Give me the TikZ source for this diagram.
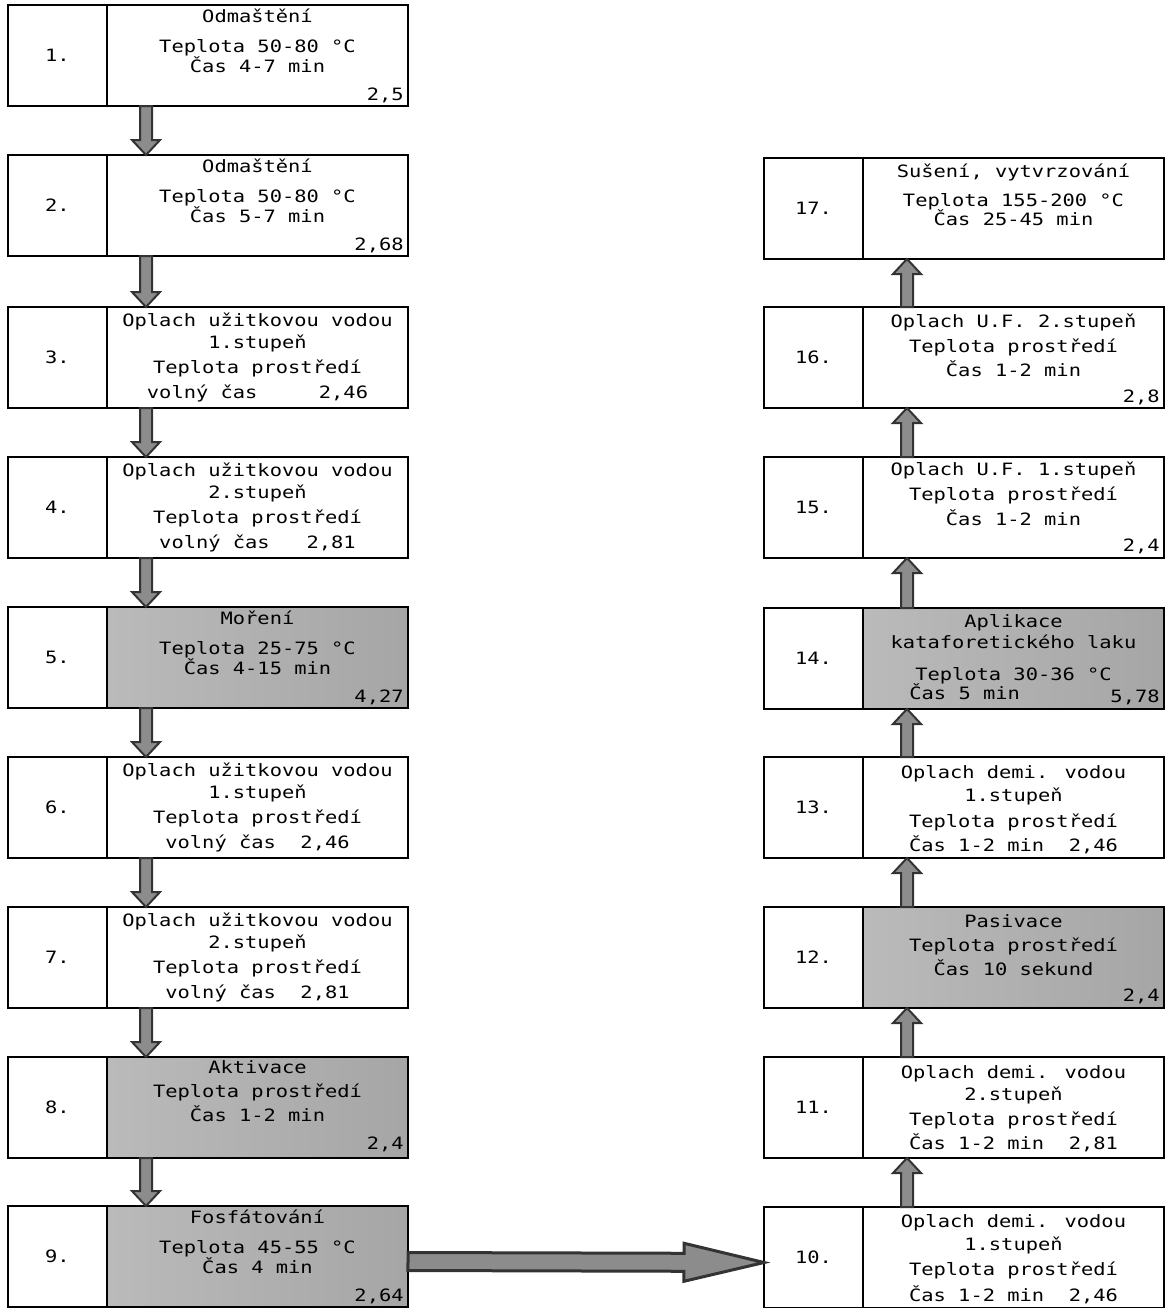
\documentclass[tikz,border=0pt]{standalone}
\usepackage{fontspec}
\setmainfont[FakeStretch=1.2]{DejaVu Sans Mono}
\usetikzlibrary{calc}

% block arrow: [style]{from}{to}{shaft half width}{head half width}{head length}
\newcommand{\procarrow}[6][]{%
  \draw[#1] let \p1=(#2), \p2=(#3), \n1={atan2(\y2-\y1,\x2-\x1)}, \n2={veclen(\x2-\x1,\y2-\y1)} in
    [shift={(\p1)}, rotate=\n1]
    (0pt,-#4) -- ({\n2*1pt-#6},-#4) -- ({\n2*1pt-#6},-#5) -- ({\n2*1pt},0pt)
    -- ({\n2*1pt-#6},#5) -- ({\n2*1pt-#6},#4) -- (0pt,#4) -- cycle;}

\begin{document}
\begin{tikzpicture}[x=0.5pt, y=-0.5pt, font=\fontsize{8.5pt}{10pt}\selectfont, line join=miter,
  numcell/.style={draw, line width=1.3pt, minimum width=49.5pt, minimum height=50.5pt, inner sep=0pt, outer sep=0pt},
  textcell/.style={draw, line width=1.3pt, minimum width=150.5pt, minimum height=50.5pt, inner sep=0pt, outer sep=0pt, anchor=west},
  bath/.style={shade, left color=black!27, right color=black!35},
  txt/.style={anchor=base, inner sep=0pt},
  val/.style={anchor=base east, inner sep=0pt},
  pipe/.style={draw=black!80, line width=1pt, fill=black!45},
  bigpipe/.style={draw=black!80, line width=1.5pt, fill=black!45}]
  \useasboundingbox (0,0) rectangle (1172,1308);

  % left column
  \node[numcell] (n1) at (57.5,55.5) {1.};
  \node[textcell] (t1) at (n1.east) {};
  \node[txt] (l1a) at (257.5,22) {Odmaštění};
  \node[txt] (l1b) at (257.5,52) {Teplota 50-80 °C};
  \node[txt] (l1c) at (257.5,72) {Čas 4-7 min};
  \node[val] (v1) at (404,100) {2,5};

  \node[numcell] (n2) at (57.5,205.5) {2.};
  \node[textcell] (t2) at (n2.east) {};
  \node[txt] (l2a) at (257.5,172) {Odmaštění};
  \node[txt] (l2b) at (257.5,202) {Teplota 50-80 °C};
  \node[txt] (l2c) at (257.5,222) {Čas 5-7 min};
  \node[val] (v2) at (404,250) {2,68};

  \node[numcell] (n3) at (57.5,357.5) {3.};
  \node[textcell] (t3) at (n3.east) {};
  \node[txt] (l3a) at (257.5,326) {Oplach užitkovou vodou};
  \node[txt] (l3b) at (257.5,348) {1.stupeň};
  \node[txt] (l3c) at (257.5,373) {Teplota prostředí};
  \node[txt] (l3d) at (257.5,398) {volný čas~~~~~2,46};

  \node[numcell] (n4) at (57.5,507.5) {4.};
  \node[textcell] (t4) at (n4.east) {};
  \node[txt] (l4a) at (257.5,476) {Oplach užitkovou vodou};
  \node[txt] (l4b) at (257.5,498) {2.stupeň};
  \node[txt] (l4c) at (257.5,523) {Teplota prostředí};
  \node[txt] (l4d) at (257.5,548) {volný čas~~~2,81};

  \node[numcell] (n5) at (57.5,657.5) {5.};
  \node[textcell, bath] (t5) at (n5.east) {};
  \node[txt] (l5a) at (257.5,624) {Moření};
  \node[txt] (l5b) at (257.5,654) {Teplota 25-75 °C};
  \node[txt] (l5c) at (257.5,674) {Čas 4-15 min};
  \node[val] (v5) at (404,702) {4,27};

  \node[numcell] (n6) at (57.5,807.5) {6.};
  \node[textcell] (t6) at (n6.east) {};
  \node[txt] (l6a) at (257.5,776) {Oplach užitkovou vodou};
  \node[txt] (l6b) at (257.5,798) {1.stupeň};
  \node[txt] (l6c) at (257.5,823) {Teplota prostředí};
  \node[txt] (l6d) at (257.5,848) {volný čas~~2,46};

  \node[numcell] (n7) at (57.5,957.5) {7.};
  \node[textcell] (t7) at (n7.east) {};
  \node[txt] (l7a) at (257.5,926) {Oplach užitkovou vodou};
  \node[txt] (l7b) at (257.5,948) {2.stupeň};
  \node[txt] (l7c) at (257.5,973) {Teplota prostředí};
  \node[txt] (l7d) at (257.5,998) {volný čas~~2,81};

  \node[numcell] (n8) at (57.5,1107.5) {8.};
  \node[textcell, bath] (t8) at (n8.east) {};
  \node[txt] (l8a) at (257.5,1073) {Aktivace};
  \node[txt] (l8b) at (257.5,1097) {Teplota prostředí};
  \node[txt] (l8c) at (257.5,1121) {Čas 1-2 min};
  \node[val] (v8) at (404,1149) {2,4};

  \node[numcell] (n9) at (57.5,1256.5) {9.};
  \node[textcell, bath] (t9) at (n9.east) {};
  \node[txt] (l9a) at (257.5,1223) {Fosfátování};
  \node[txt] (l9b) at (257.5,1253) {Teplota 45-55 °C};
  \node[txt] (l9c) at (257.5,1273) {Čas 4 min};
  \node[val] (v9) at (404,1301) {2,64};

  % right column
  \node[numcell] (n10) at (813.5,1257.5) {10.};
  \node[textcell] (t10) at (n10.east) {};
  \node[txt] (l10a) at (1013.5,1227) {Oplach demi. vodou};
  \node[txt] (l10b) at (1013.5,1250) {1.stupeň};
  \node[txt] (l10c) at (1013.5,1275) {Teplota prostředí};
  \node[txt] (l10d) at (1013.5,1301) {Čas 1-2 min~~2,46};

  \node[numcell] (n11) at (813.5,1107.5) {11.};
  \node[textcell] (t11) at (n11.east) {};
  \node[txt] (l11a) at (1013.5,1078) {Oplach demi. vodou};
  \node[txt] (l11b) at (1013.5,1100) {2.stupeň};
  \node[txt] (l11c) at (1013.5,1125) {Teplota prostředí};
  \node[txt] (l11d) at (1013.5,1149) {Čas 1-2 min~~2,81};

  \node[numcell] (n12) at (813.5,957.5) {12.};
  \node[textcell, bath] (t12) at (n12.east) {};
  \node[txt] (l12a) at (1013.5,927) {Pasivace};
  \node[txt] (l12b) at (1013.5,951) {Teplota prostředí};
  \node[txt] (l12c) at (1013.5,975) {Čas 10 sekund};
  \node[val] (v12) at (1160,1001) {2,4};

  \node[numcell] (n13) at (813.5,807.5) {13.};
  \node[textcell] (t13) at (n13.east) {};
  \node[txt] (l13a) at (1013.5,778) {Oplach demi. vodou};
  \node[txt] (l13b) at (1013.5,801) {1.stupeň};
  \node[txt] (l13c) at (1013.5,827) {Teplota prostředí};
  \node[txt] (l13d) at (1013.5,851) {Čas 1-2 min~~2,46};

  \node[numcell] (n14) at (813.5,658.5) {14.};
  \node[textcell, bath] (t14) at (n14.east) {};
  \node[txt] (l14a) at (1013.5,627) {Aplikace};
  \node[txt] (l14b) at (1013.5,648) {kataforetického laku};
  \node[txt] (l14c) at (1013.5,680) {Teplota 30-36 °C};
  \node[txt, anchor=base west] (l14d) at (909,699) {Čas 5 min};
  \node[val] (v14) at (1160,702) {5,78};

  \node[numcell] (n15) at (813.5,507.5) {15.};
  \node[textcell] (t15) at (n15.east) {};
  \node[txt] (l15a) at (1013.5,475) {Oplach U.F. 1.stupeň};
  \node[txt] (l15b) at (1013.5,500) {Teplota prostředí};
  \node[txt] (l15c) at (1013.5,525) {Čas 1-2 min};
  \node[val] (v15) at (1160,551) {2,4};

  \node[numcell] (n16) at (813.5,357.5) {16.};
  \node[textcell] (t16) at (n16.east) {};
  \node[txt] (l16a) at (1013.5,327) {Oplach U.F. 2.stupeň};
  \node[txt] (l16b) at (1013.5,352) {Teplota prostředí};
  \node[txt] (l16c) at (1013.5,376) {Čas 1-2 min};
  \node[val] (v16) at (1160,402) {2,8};

  \node[numcell] (n17) at (813.5,208.5) {17.};
  \node[textcell] (t17) at (n17.east) {};
  \node[txt] (l17a) at (1013.5,177) {Sušení, vytvrzování};
  \node[txt] (l17b) at (1013.5,206) {Teplota 155-200 °C};
  \node[txt] (l17c) at (1013.5,225) {Čas 25-45 min};

  % arrows down the left column
  \procarrow[pipe]{$(t1.south west)+(39,0)$}{$(t2.north west)+(39,0)$}{3pt}{7pt}{7.5pt}
  \procarrow[pipe]{$(t2.south west)+(39,0)$}{$(t3.north west)+(39,0)$}{3pt}{7pt}{7.5pt}
  \procarrow[pipe]{$(t3.south west)+(39,0)$}{$(t4.north west)+(39,0)$}{3pt}{7pt}{7.5pt}
  \procarrow[pipe]{$(t4.south west)+(39,0)$}{$(t5.north west)+(39,0)$}{3pt}{7pt}{7.5pt}
  \procarrow[pipe]{$(t5.south west)+(39,0)$}{$(t6.north west)+(39,0)$}{3pt}{7pt}{7.5pt}
  \procarrow[pipe]{$(t6.south west)+(39,0)$}{$(t7.north west)+(39,0)$}{3pt}{7pt}{7.5pt}
  \procarrow[pipe]{$(t7.south west)+(39,0)$}{$(t8.north west)+(39,0)$}{3pt}{7pt}{7.5pt}
  \procarrow[pipe]{$(t8.south west)+(39,0)$}{$(t9.north west)+(39,0)$}{3pt}{7pt}{7.5pt}
  % across
  \procarrow[bigpipe]{$(t9.east)+(0,5)$}{$(n10.west)+(0,5)$}{4.5pt}{9.5pt}{40pt}
  % arrows up the right column
  \procarrow[pipe]{$(t10.north west)+(44,0)$}{$(t11.south west)+(44,0)$}{3pt}{7pt}{7.5pt}
  \procarrow[pipe]{$(t11.north west)+(44,0)$}{$(t12.south west)+(44,0)$}{3pt}{7pt}{7.5pt}
  \procarrow[pipe]{$(t12.north west)+(44,0)$}{$(t13.south west)+(44,0)$}{3pt}{7pt}{7.5pt}
  \procarrow[pipe]{$(t13.north west)+(44,0)$}{$(t14.south west)+(44,0)$}{3pt}{7pt}{7.5pt}
  \procarrow[pipe]{$(t14.north west)+(44,0)$}{$(t15.south west)+(44,0)$}{3pt}{7pt}{7.5pt}
  \procarrow[pipe]{$(t15.north west)+(44,0)$}{$(t16.south west)+(44,0)$}{3pt}{7pt}{7.5pt}
  \procarrow[pipe]{$(t16.north west)+(44,0)$}{$(t17.south west)+(44,0)$}{3pt}{7pt}{7.5pt}
\end{tikzpicture}
\end{document}
